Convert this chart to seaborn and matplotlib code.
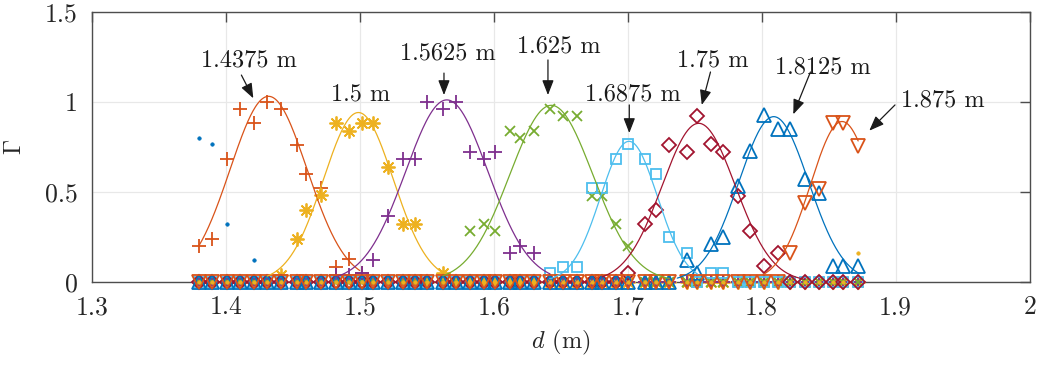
import numpy as np
import pandas as pd
import matplotlib
matplotlib.use("Agg")
import matplotlib.pyplot as plt
import seaborn as sns

# sample positions d (m)
d = [1.380, 1.390, 1.401, 1.411, 1.421, 1.431, 1.441, 1.453, 1.460, 1.471,
     1.482, 1.492, 1.502, 1.510, 1.521, 1.532, 1.541, 1.550, 1.562, 1.572,
     1.582, 1.593, 1.601, 1.612, 1.620, 1.630, 1.642, 1.652, 1.662, 1.673,
     1.681, 1.691, 1.700, 1.713, 1.721, 1.731, 1.744, 1.752, 1.762, 1.771,
     1.782, 1.791, 1.802, 1.812, 1.821, 1.832, 1.843, 1.853, 1.861, 1.872]

# Gamma per sensor, same length as d
g_dot_blue = [0.80, 0.763, 0.32, 0, 0.12, 0, 0, 0, 0, 0,
              0, 0, 0, 0, 0, 0, 0, 0, 0, 0,
              0, 0, 0, 0, 0, 0, 0, 0, 0, 0,
              0, 0, 0, 0, 0, 0, 0, 0, 0, 0,
              0, 0, 0, 0, 0, 0, 0, 0, 0, 0]
g_14375 = [0.20, 0.24, 0.68, 0.96, 0.88, 1.00, 0.96, 0.76, 0.60, 0.52,
           0.083, 0.124, 0.05, 0, 0, 0, 0, 0, 0, 0,
           0, 0, 0, 0, 0, 0, 0, 0, 0, 0,
           0, 0, 0, 0, 0, 0, 0, 0, 0, 0,
           0, 0, 0, 0, 0, 0, 0, 0, 0, 0]
g_15 = [0, 0, 0, 0, 0, 0, 0.04, 0.24, 0.40, 0.48,
        0.88, 0.84, 0.88, 0.88, 0.64, 0.32, 0.32, 0, 0.047, 0,
        0, 0, 0, 0, 0, 0, 0, 0, 0, 0,
        0, 0, 0, 0, 0, 0, 0, 0, 0, 0,
        0, 0, 0, 0, 0, 0, 0, 0, 0, 0]
g_15625 = [0, 0, 0, 0, 0, 0, 0, 0, 0, 0,
           0.04, 0.04, 0.05, 0.12, 0.365, 0.68, 0.68, 1.00, 0.96, 1.00,
           0.72, 0.68, 0.72, 0.16, 0.20, 0.16, 0, 0, 0, 0,
           0, 0, 0, 0, 0, 0, 0, 0, 0, 0,
           0, 0, 0, 0, 0, 0, 0, 0, 0, 0]
g_1625 = [0, 0, 0, 0, 0, 0, 0, 0, 0, 0,
          0, 0, 0, 0, 0, 0, 0, 0, 0, 0,
          0.28, 0.32, 0.28, 0.84, 0.80, 0.84, 0.96, 0.92, 0.92, 0.476,
          0.476, 0.32, 0.20, 0, 0, 0, 0, 0, 0, 0,
          0, 0, 0, 0, 0, 0, 0, 0, 0, 0]
g_16875 = [0, 0, 0, 0, 0, 0, 0, 0, 0, 0,
           0, 0, 0, 0, 0, 0, 0, 0, 0, 0,
           0, 0, 0, 0, 0, 0, 0.05, 0.083, 0.083, 0.52,
           0.52, 0.68, 0.763, 0.68, 0.60, 0.247, 0.16, 0, 0.05, 0.05,
           0, 0, 0, 0, 0, 0, 0, 0, 0, 0]
g_175 = [0, 0, 0, 0, 0, 0, 0, 0, 0, 0,
         0, 0, 0, 0, 0, 0, 0, 0, 0, 0,
         0, 0, 0, 0, 0, 0, 0, 0, 0, 0,
         0, 0, 0.05, 0.32, 0.40, 0.76, 0.72, 0.92, 0.763, 0.72,
         0.476, 0.283, 0.087, 0.16, 0, 0, 0, 0, 0, 0]
g_18125 = [0, 0, 0, 0, 0, 0, 0, 0, 0, 0,
           0, 0, 0, 0, 0, 0, 0, 0, 0, 0,
           0, 0, 0, 0, 0, 0, 0, 0, 0, 0,
           0, 0, 0, 0, 0, 0, 0.12, 0.05, 0.21, 0.25,
           0.53, 0.726, 0.926, 0.846, 0.846, 0.569, 0.494, 0.087, 0.087, 0.087]
g_1875 = [0, 0, 0, 0, 0, 0, 0, 0, 0, 0,
          0, 0, 0, 0, 0, 0, 0, 0, 0, 0,
          0, 0, 0, 0, 0, 0, 0, 0, 0, 0,
          0, 0, 0, 0, 0, 0, 0, 0, 0, 0,
          0, 0, 0, 0, 0.158, 0.435, 0.513, 0.88, 0.88, 0.754]
g_dot_yellow = [0, 0, 0, 0, 0, 0, 0, 0, 0, 0,
                0, 0, 0, 0, 0, 0, 0, 0, 0, 0,
                0, 0, 0, 0, 0, 0, 0, 0, 0, 0,
                0, 0, 0, 0, 0, 0, 0, 0, 0, 0,
                0, 0, 0, 0, 0, 0, 0, 0, 0, 0.16]

# gaussian fits: centre, peak, width, drawn range
fit_center = [1.432, 1.499, 1.565, 1.643, 1.701, 1.753, 1.809, 1.860]
fit_peak = [1.03, 0.94, 1.01, 0.98, 0.78, 0.88, 0.917, 0.89]
fit_sigma = [0.0287, 0.026, 0.0307, 0.031, 0.0212, 0.0273, 0.026, 0.0236]
fit_start = [1.380, 1.431, 1.482, 1.562, 1.642, 1.681, 1.737, 1.801]
fit_end = [1.500, 1.562, 1.642, 1.731, 1.752, 1.832, 1.873, 1.872]

labels = ["1.4375 m", "1.5 m", "1.5625 m", "1.625 m", "1.6875 m", "1.75 m", "1.8125 m", "1.875 m"]

blue, orange, yellow, purple = "#0072BD", "#D95319", "#EDB120", "#7E2F8E"
green, lblue, red = "#77AC30", "#4DBEEE", "#A2142F"

series = [
    (g_dot_blue, blue, ".", dict(ms=5, mfc=blue, mew=0.5)),
    (g_14375, orange, "+", dict(ms=10, mew=1.3)),
    (g_15, yellow, (8, 2, 0), dict(ms=10, mew=1.3)),
    (g_15625, purple, "+", dict(ms=10, mew=1.3)),
    (g_1625, green, "x", dict(ms=7, mew=1.3)),
    (g_16875, lblue, "s", dict(ms=7.5, mfc="none", mew=1.3)),
    (g_175, red, "D", dict(ms=7, mfc="none", mew=1.3)),
    (g_18125, blue, "^", dict(ms=10, mfc="none", mew=1.3)),
    (g_1875, orange, "v", dict(ms=10, mfc="none", mew=1.3)),
    (g_dot_yellow, yellow, ".", dict(ms=5, mfc=yellow, mew=0.5)),
]
fit_colors = [orange, yellow, purple, green, lblue, red, blue, orange]

sns.set_theme(style="white")
plt.rcParams["font.family"] = ["cmr10", "DejaVu Serif"]
plt.rcParams["mathtext.fontset"] = "cm"
plt.rcParams["axes.formatter.use_mathtext"] = True

fig = plt.figure(figsize=(10.41, 3.67), dpi=100)
ax = fig.add_axes([0.0881, 0.2324, 0.9010, 0.7357])

for vals, c, m, kw in series:
    sns.lineplot(x=d, y=vals, ax=ax, estimator=None, linestyle="none", marker=m,
                 color=c, markeredgecolor=c, clip_on=False, zorder=3, **kw)

for i in range(len(fit_center)):
    xs = np.linspace(fit_start[i], fit_end[i], 200)
    ys = fit_peak[i] * np.exp(-(xs - fit_center[i]) ** 2 / (2 * fit_sigma[i] ** 2))
    sns.lineplot(x=xs, y=ys, ax=ax, estimator=None, color=fit_colors[i], lw=0.9, zorder=3)

# label text (x centre, baseline) and arrows (tail, tip)
text_pos = [(1.4174, 1.194), (1.5010, 1.009), (1.5659, 1.237), (1.6488, 1.271),
            (1.7040, 1.009), (1.7637, 1.193), (1.8458, 1.159), (1.9353, 0.971)]
arrows = [((1.4117, 1.148), (1.4206, 1.019)), None,
          ((1.5629, 1.159), (1.5629, 1.037)), ((1.6405, 1.232), (1.6405, 1.037)),
          ((1.7012, 0.982), (1.7012, 0.826)), ((1.7618, 1.165), (1.7553, 0.982)),
          ((1.8364, 1.165), (1.8236, 0.930)), ((1.8995, 0.982), (1.8803, 0.839))]
for lab, (tx, ty), arr in zip(labels, text_pos, arrows):
    ax.text(tx, ty, lab, ha="center", va="baseline", fontsize=17.5, color="k")
    if arr is not None:
        ax.annotate("", xy=arr[1], xytext=arr[0],
                    arrowprops=dict(arrowstyle="-|>,head_length=0.9,head_width=0.35",
                                    color="k", lw=0.9, mutation_scale=10,
                                    shrinkA=0, shrinkB=0))

ax.set_xlim(1.3, 2.0)
ax.set_ylim(0, 1.5)
ax.set_xticks([1.3, 1.4, 1.5, 1.6, 1.7, 1.8, 1.9, 2.0])
ax.set_xticklabels(["1.3", "1.4", "1.5", "1.6", "1.7", "1.8", "1.9", "2"])
ax.set_yticks([0, 0.5, 1, 1.5])
ax.set_yticklabels(["0", "0.5", "1", "1.5"])
ax.set_xlabel("$d$ (m)", fontsize=17.5, color="#262626", labelpad=6)
ax.set_ylabel(r"$\Gamma$", fontsize=17.5, color="#262626", labelpad=14)

ax.grid(True, color="#e8e8e8", lw=0.9)
ax.set_axisbelow(True)
for s in ax.spines.values():
    s.set_visible(True)
    s.set_color("#4d4d4d")
    s.set_linewidth(1.0)
ax.tick_params(direction="in", length=7, width=1.0, color="#4d4d4d",
               top=True, right=True, labelsize=18.5, labelcolor="#262626")
ax.tick_params(axis="x", pad=10)
ax.tick_params(axis="y", pad=10)

fig.savefig("out.png", dpi=100)
